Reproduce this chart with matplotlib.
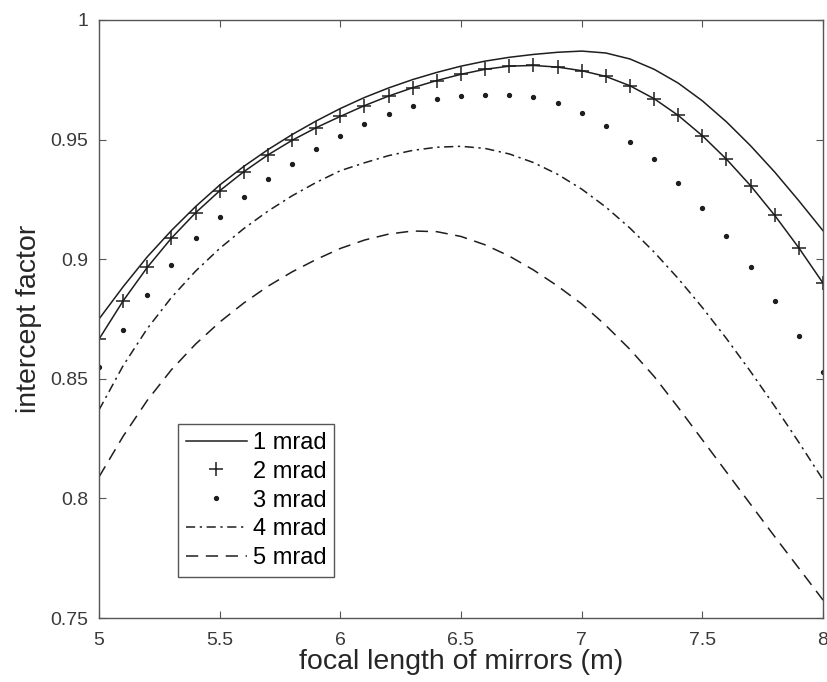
import numpy as np
import matplotlib
matplotlib.use("Agg")
import matplotlib.pyplot as plt
from matplotlib.ticker import FuncFormatter

# focal length of mirrors (m)
focal = [5.0, 5.1, 5.2, 5.3, 5.4, 5.5, 5.6, 5.7, 5.8, 5.9, 6.0,
         6.1, 6.2, 6.3, 6.4, 6.5, 6.6, 6.7, 6.8, 6.9, 7.0,
         7.1, 7.2, 7.3, 7.4, 7.5, 7.6, 7.7, 7.8, 7.9, 8.0]

# intercept factor for each slope error
mrad_1 = [0.875, 0.8885, 0.901, 0.912, 0.922, 0.931, 0.9388, 0.9458, 0.9521, 0.9578, 0.963,
          0.9676, 0.9716, 0.9751, 0.9781, 0.9807, 0.9828, 0.9844, 0.9856, 0.9865, 0.987,
          0.9862, 0.9837, 0.9794, 0.9736, 0.9662, 0.9574, 0.9474, 0.9364, 0.9244, 0.9119]
mrad_2 = [0.8666, 0.8826, 0.8966, 0.9088, 0.9194, 0.9286, 0.9366, 0.9436, 0.9497, 0.955, 0.9597,
          0.9642, 0.9682, 0.9717, 0.9747, 0.9773, 0.9794, 0.9807, 0.981, 0.9803, 0.9788,
          0.9764, 0.9725, 0.9671, 0.9601, 0.9516, 0.9418, 0.9307, 0.9183, 0.9047, 0.89]
mrad_3 = [0.8548, 0.8704, 0.885, 0.8976, 0.9087, 0.9178, 0.9259, 0.9335, 0.940, 0.9462, 0.9517,
          0.9565, 0.9607, 0.9642, 0.9668, 0.9681, 0.9686, 0.9686, 0.9677, 0.9655, 0.961,
          0.9557, 0.9492, 0.9417, 0.932, 0.9213, 0.9097, 0.8969, 0.8827, 0.8679, 0.853]
mrad_4 = [0.837, 0.8555, 0.871, 0.884, 0.895, 0.9045, 0.9128, 0.9201, 0.9265, 0.9321, 0.937,
          0.9403, 0.9433, 0.9455, 0.9468, 0.9472, 0.9463, 0.944, 0.9404, 0.9355, 0.9293,
          0.9218, 0.913, 0.903, 0.8919, 0.8798, 0.8668, 0.853, 0.8385, 0.8234, 0.8078]
mrad_5 = [0.809, 0.826, 0.841, 0.8538, 0.8645, 0.8737, 0.8817, 0.8887, 0.8947, 0.8999, 0.9045,
          0.908, 0.9105, 0.9118, 0.9115, 0.9095, 0.906, 0.9013, 0.8955, 0.8888, 0.8813,
          0.8723, 0.8623, 0.851, 0.838, 0.8245, 0.811, 0.7975, 0.784, 0.7708, 0.7575]

line_col = "#1e1e1e"

plt.rcParams["font.family"] = ["Liberation Sans", "DejaVu Sans"]

fig = plt.figure(figsize=(8.28, 6.82), dpi=100)
ax = fig.add_axes([0.1196, 0.0938, 0.8744, 0.8769])

ax.plot(focal, mrad_1, "-", color=line_col, lw=1.1, label="1 mrad")
ax.plot(focal, mrad_2, "+", color=line_col, ms=10, mew=1.1,
        linestyle="-", lw=1.1, label="2 mrad")
ax.plot(focal, mrad_3, "o", color=line_col, ms=2.8, linestyle="none", label="3 mrad")
ax.plot(focal, mrad_4, color=line_col, lw=1.1, dashes=(6, 3, 1.5, 3), label="4 mrad")
ax.plot(focal, mrad_5, color=line_col, lw=1.1, dashes=(8, 5), label="5 mrad")

ax.set_xlim(5, 8)
ax.set_ylim(0.75, 1)
ax.set_xticks(np.arange(5, 8.01, 0.5))
ax.set_yticks(np.arange(0.75, 1.001, 0.05))
fmt = FuncFormatter(lambda v, p: "%g" % round(v, 2))
ax.xaxis.set_major_formatter(fmt)
ax.yaxis.set_major_formatter(fmt)

ax.tick_params(direction="in", length=5, width=0.8, colors="#555555",
               labelcolor="#3a3a3a", labelsize=14, top=True, right=True)
ax.tick_params(axis="y", pad=8)
ax.tick_params(axis="x", pad=10)
for s in ax.spines.values():
    s.set_color("#555555")
    s.set_linewidth(1.0)

ax.set_xlabel("focal length of mirrors (m)", fontsize=20.5, color="#262626", labelpad=0)
ax.set_ylabel("intercept factor", fontsize=20.5, color="#262626", labelpad=6)

# legend with the 2 mrad entry shown as marker only
handles, labels = ax.get_legend_handles_labels()
h2 = plt.Line2D([], [], marker="+", ms=10, mew=1.1, color=line_col, linestyle="none")
handles[1] = h2
leg = ax.legend(handles, labels, loc="lower left", bbox_to_anchor=(0.109, 0.0686),
                borderaxespad=0, fontsize=17, fancybox=False, framealpha=1,
                edgecolor="#555555", handlelength=2.6, handletextpad=0.25,
                labelspacing=0.29, borderpad=0.33, numpoints=1)
leg.get_frame().set_linewidth(1.0)

fig.savefig("out.png", dpi=100)
